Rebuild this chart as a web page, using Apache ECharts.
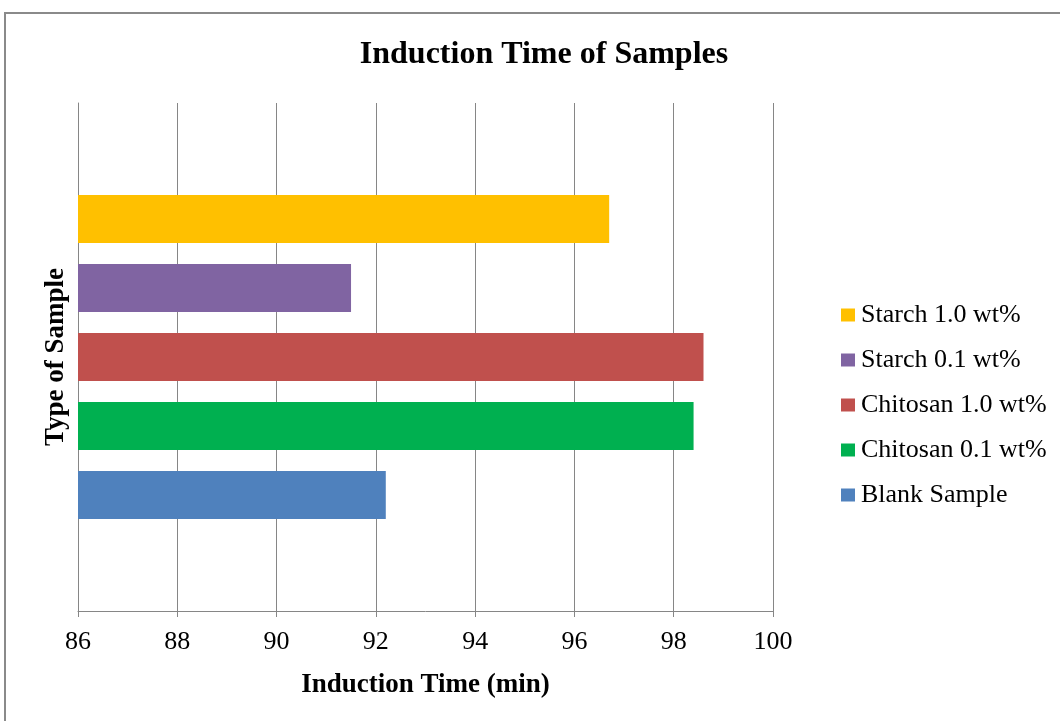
<!DOCTYPE html>
<html>
<head>
<meta charset="utf-8">
<script src="https://cdn.jsdelivr.net/npm/echarts@6/dist/echarts.min.js"></script>
<style>html,body{margin:0;padding:0;background:#fff}#main{width:1060px;height:721px}</style>
</head>
<body>
<div id="main"></div>
<script>
const seriesNames = ['Starch 1.0 wt%', 'Starch 0.1 wt%', 'Chitosan 1.0 wt%', 'Chitosan 0.1 wt%', 'Blank Sample'];
const seriesValues = [96.7, 91.5, 98.6, 98.4, 92.2];
const seriesColors = ['#FFC000', '#8064A2', '#C0504D', '#00B050', '#4F81BD'];
const categories = [''];
const xTicks = { min: 86, max: 100, interval: 2 };

const font = '"Liberation Serif", "Times New Roman", serif';
const chart = echarts.init(document.getElementById('main'));
chart.setOption({
  animation: false,
  title: {
    text: 'Induction Time of Samples',
    left: 539, top: 34, textAlign: 'center',
    textStyle: { fontFamily: font, fontSize: 32, fontWeight: 'bold', color: '#000' }
  },
  graphic: [{
    type: 'rect', silent: true, z: -1,
    shape: { x: 5, y: 13, width: 1200, height: 900 },
    style: { fill: 'none', stroke: '#8a8a8a', lineWidth: 2 }
  }],
  legend: {
    orient: 'vertical', left: 836, top: 297,
    itemWidth: 14, itemHeight: 13, itemGap: 19, icon: 'rect',
    data: seriesNames,
    textStyle: { fontFamily: font, fontSize: 26, color: '#000', padding: [0, 0, 0, 1] }
  },
  grid: { left: 78, right: 287, top: 103, bottom: 110 },
  xAxis: {
    type: 'value', min: xTicks.min, max: xTicks.max, interval: xTicks.interval,
    name: 'Induction Time (min)', nameLocation: 'middle', nameGap: 61,
    nameTextStyle: { fontFamily: font, fontSize: 27, fontWeight: 'bold', color: '#000' },
    axisLine: { show: true, lineStyle: { color: '#868686', width: 1 } },
    axisTick: { show: true, length: 6, lineStyle: { color: '#868686' } },
    axisLabel: { fontFamily: font, fontSize: 26, color: '#000', margin: 18 },
    splitLine: { show: true, lineStyle: { color: '#868686', width: 1 } }
  },
  yAxis: {
    type: 'category', data: categories,
    name: 'Type of Sample', nameLocation: 'middle', nameGap: 8, nameRotate: 90,
    nameTextStyle: { fontFamily: font, fontSize: 27, fontWeight: 'bold', color: '#000' },
    axisLine: { show: true, lineStyle: { color: '#868686', width: 1 } },
    axisTick: { show: false },
    axisLabel: { show: false }
  },
  series: seriesNames.map((n, i) => ({
    name: n, type: 'bar', data: [seriesValues[i]],
    barWidth: 48, barGap: '43.75%',
    itemStyle: { color: seriesColors[i] }
  }))
});
</script>
</body>
</html>
